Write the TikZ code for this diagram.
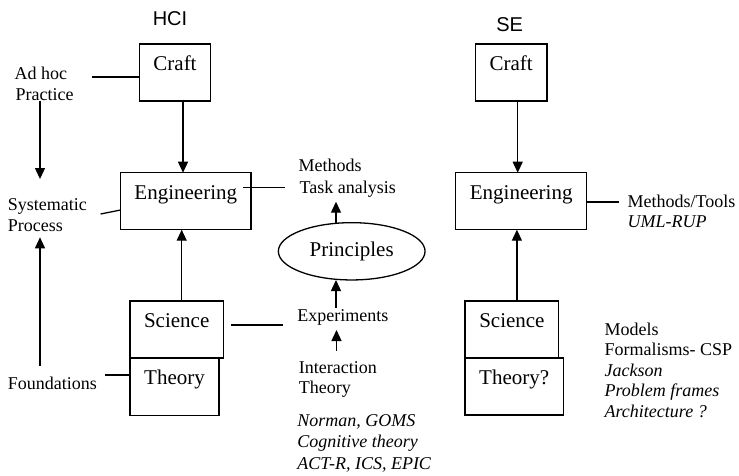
\documentclass[tikz,border=0pt]{standalone}
\usepackage{fontspec}
\setmainfont{Liberation Serif}
\newfontfamily\headfont{Liberation Sans}
\usetikzlibrary{arrows.meta,shapes.geometric}
\newcommand{\lblsize}{\fontsize{18}{21}\selectfont}
\newcommand{\boxsize}{\fontsize{21}{25}\selectfont}
\begin{document}
\begin{tikzpicture}[x=1pt,y=-1pt,
  line width=1.3pt,
  stage/.style={draw, rectangle, inner sep=0pt, outer sep=0pt, font=\boxsize,
    text height=26.5pt, text depth=30.5pt, minimum height=57pt},
  head/.style={inner sep=0pt, anchor=base, font=\headfont\fontsize{20}{24}\selectfont},
  lbl/.style={inner sep=0pt, anchor=base west, font=\lblsize},
  ilbl/.style={inner sep=0pt, anchor=base west, font=\lblsize\itshape},
  arr/.style={-{Triangle[length=11pt,width=10pt]}}]

% canvas
\fill[white] (0,0) rectangle (739,475);
\useasboundingbox (0,0) rectangle (739,475);

% column headings
\node[head] (hci) at (170,25) {HCI};
\node[head] (se) at (509.7,31.7) {SE};

% HCI stages
\node[stage, minimum width=71.5pt] (hcicraft) at (175,72.5) {Craft};
\node[stage, minimum width=130.5pt] (hcieng) at (185.8,201.2) {Engineering};
\node[stage, minimum width=93.3pt] (hcisci) at (176.7,329.5) {Science};
\node[stage, minimum width=89pt] (hcith) at (174.5,386.8) {Theory};

% SE stages
\node[stage, minimum width=71.7pt] (secraft) at (511.2,72.5) {Craft};
\node[stage, minimum width=131pt] (seeng) at (521.2,201.2) {Engineering};
\node[stage, minimum width=93.7pt] (sesci) at (511.9,329.5) {Science};
\node[stage, minimum width=98.3pt] (seth) at (514.2,386.5) {Theory?};

% principles
\node[draw, ellipse, inner sep=0pt, minimum width=146.7pt, minimum height=57.3pt,
  font=\boxsize] (princ) at (351.7,251.3) {Principles};

% left-hand labels
\node[lbl] (adhoc) at (14,79) {Ad hoc};
\node[lbl] (practice) at (15,100.7) {Practice};
\node[lbl] (systematic) at (7.3,210) {Systematic};
\node[lbl] (process) at (7.3,231) {Process};
\node[lbl] (found) at (7.3,389) {Foundations};

% middle labels
\node[lbl] (methods) at (298,171.7) {Methods};
\node[lbl] (task) at (299,193.3) {Task analysis};
\node[lbl] (exper) at (296.7,321.7) {Experiments};
\node[lbl] (interact) at (298.3,373.3) {Interaction};
\node[lbl] (itheory) at (298.3,393.3) {Theory};
\node[ilbl] (norman) at (296.7,426.7) {Norman, GOMS};
\node[ilbl] (cognitive) at (296.7,447.7) {Cognitive theory};
\node[ilbl] (actr) at (296.7,469) {ACT-R, ICS, EPIC};

% right-hand labels
\node[lbl] (mtools) at (627,207) {Methods/Tools};
\node[ilbl] (umlrup) at (627,227.5) {UML-RUP};
\node[lbl] (models) at (604,335) {Models};
\node[lbl] (formal) at (604,355.5) {Formalisms- CSP};
\node[ilbl] (jackson) at (604,376) {Jackson};
\node[ilbl] (pframes) at (604,396.5) {Problem frames};
\node[ilbl] (archi) at (604,417) {Architecture ?};

% progression arrows between stages
\draw[arr] ([xshift=8pt]hcicraft.south) -- ([xshift=8pt]hcicraft.south |- hcieng.north);
\draw[arr] ([xshift=5pt]hcisci.north) -- ([xshift=5pt]hcisci.north |- hcieng.south);
\draw[arr] ([xshift=6.5pt]secraft.south) -- ([xshift=6.5pt]secraft.south |- seeng.north);
\draw[arr] ([xshift=5pt]sesci.north) -- ([xshift=5pt]sesci.north |- seeng.south);

% left-hand arrows
\draw[arr] ([xshift=25pt]practice.base west) -- ([xshift=32.7pt,yshift=31pt]systematic.base west);
\draw[arr] ([xshift=32.7pt,yshift=23pt]found.base west) -- ([xshift=32.7pt,yshift=-6.3pt]process.base west);

% middle arrows
\draw[arr] ([xshift=-15.7pt,yshift=-0.6pt]princ.north) -- ([xshift=37pt,yshift=-8.4pt]task.base west);
\draw[arr] ([xshift=39.3pt,yshift=13.7pt]exper.base west) -- ([xshift=-15.7pt,yshift=0.6pt]princ.south);
\draw[arr] ([xshift=38.2pt,yshift=22.6pt]interact.base west) -- ([xshift=39.8pt,yshift=-8.3pt]exper.base west);

% plain links from labels to stages
\draw ([xshift=24.5pt,yshift=2pt]adhoc.base east) -- ([yshift=-4.5pt]hcicraft.west);
\draw ([xshift=13pt,yshift=-4pt]systematic.base east) -- ([yshift=-8.8pt]hcieng.west);
\draw ([xshift=7pt,yshift=14pt]found.base east) -- ([yshift=11.8pt]hcith.west);
\draw ([xshift=-8.3pt,yshift=13.5pt]hcieng.east) -- ([xshift=-14pt,yshift=5.6pt]task.base west);
\draw ([xshift=7.7pt,yshift=4.5pt]hcisci.east) -- ([xshift=-14pt,yshift=-3.3pt]exper.base west);
\draw ([yshift=-0.8pt]seeng.east) -- ([xshift=-8pt,yshift=5pt]mtools.base west);

\end{tikzpicture}
\end{document}
